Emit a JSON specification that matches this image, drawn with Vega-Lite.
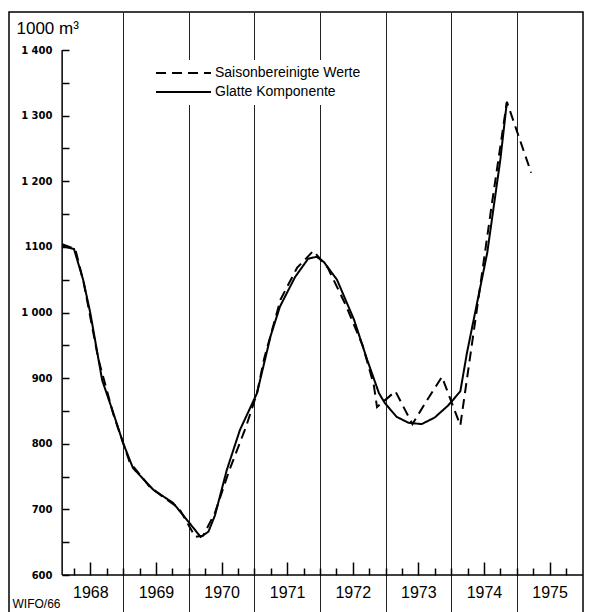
{
  "$schema": "https://vega.github.io/schema/vega-lite/v6.json",
  "width": 574,
  "height": 606,
  "autosize": "none",
  "padding": {"left": 9, "top": 12, "right": 18, "bottom": 0},
  "background": "white",
  "config": {
    "view": {"stroke": "black", "strokeWidth": 1.5},
    "font": "Liberation Sans"
  },
  "encoding": {
    "x": {
      "field": "x",
      "type": "quantitative",
      "scale": {"domain": [1967.26, 1976.01], "nice": false, "zero": false},
      "axis": {
        "orient": "bottom",
        "offset": -43,
        "domain": false,
        "values": [1968.25, 1968.5, 1968.75, 1969, 1969.25, 1969.5, 1969.75, 1970, 1970.25, 1970.5, 1970.75, 1971, 1971.25, 1971.5, 1971.75, 1972, 1972.25, 1972.5, 1972.75, 1973, 1973.25, 1973.5, 1973.75, 1974, 1974.25, 1974.5, 1974.75, 1975, 1975.25, 1975.5, 1975.75],
        "grid": true,
        "gridColor": "#222222",
        "gridWidth": 1,
        "gridOpacity": {"condition": {"test": "datum.value % 1 == 0", "value": 1}, "value": 0},
        "tickColor": "black",
        "tickWidth": 1.5,
        "tickSize": {"condition": {"test": "datum.value % 1 == 0.5", "value": -13}, "value": -7},
        "labelExpr": "datum.value % 1 == 0.5 ? format(floor(datum.value), 'd') : ''",
        "labelFont": "Liberation Sans",
        "labelFontSize": 16,
        "labelColor": "black",
        "labelBaseline": "top",
        "labelPadding": 22,
        "labelFlush": false,
        "labelOverlap": false,
        "title": "WIFO/66",
        "titleFont": "Liberation Sans",
        "titleFontSize": 12,
        "titleFontWeight": "normal",
        "titleColor": "black",
        "titleAlign": "left",
        "titleBaseline": "middle",
        "titleX": 3,
        "titleY": 28
      }
    },
    "y": {
      "field": "y",
      "type": "quantitative",
      "scale": {"domain": [534.5, 1458], "nice": false, "zero": false},
      "axis": {
        "orient": "left",
        "offset": -53,
        "domain": false,
        "grid": false,
        "values": [600, 650, 700, 750, 800, 850, 900, 950, 1000, 1050, 1100, 1150, 1200, 1250, 1300, 1350, 1400],
        "tickColor": "black",
        "tickWidth": 1.5,
        "tickSize": -7,
        "labelExpr": "datum.value == 1400 ? '1 400' : datum.value == 1300 ? '1 300' : datum.value == 1200 ? '1 200' : datum.value == 1000 ? '1 000' : datum.value % 100 == 0 ? format(datum.value, 'd') : ''",
        "labelFont": "DejaVu Sans",
        "labelFontWeight": "bold",
        "labelFontSize": 10,
        "labelColor": "black",
        "labelAlign": "right",
        "labelBaseline": "middle",
        "labelPadding": 17,
        "labelOverlap": false,
        "labelFlush": false,
        "title": "1000 m³",
        "titleFont": "Liberation Sans",
        "titleFontSize": 17,
        "titleFontWeight": "normal",
        "titleColor": "black",
        "titleAngle": 0,
        "titleAlign": "left",
        "titleBaseline": "alphabetic",
        "titleX": -46,
        "titleY": 21
      }
    }
  },
  "layer": [
    {
      "data": {"values": [{"x": 1968.07, "x2": 1976.01, "y": 600}]},
      "mark": {"type": "rule", "color": "black", "strokeWidth": 1.5},
      "encoding": {"x2": {"field": "x2"}}
    },
    {
      "data": {"values": [{"x": 1968.07, "y": 600, "y2": 1400}]},
      "mark": {"type": "rule", "color": "black", "strokeWidth": 1.5},
      "encoding": {"y2": {"field": "y2"}}
    },
    {
      "data": {
        "values": [
          {"series": "Saisonbereinigte Werte", "x": 1968.07, "y": 1104},
          {"series": "Saisonbereinigte Werte", "x": 1968.27, "y": 1097},
          {"series": "Saisonbereinigte Werte", "x": 1968.40, "y": 1045},
          {"series": "Saisonbereinigte Werte", "x": 1968.62, "y": 930},
          {"series": "Saisonbereinigte Werte", "x": 1968.85, "y": 845},
          {"series": "Saisonbereinigte Werte", "x": 1969.10, "y": 772},
          {"series": "Saisonbereinigte Werte", "x": 1969.20, "y": 760},
          {"series": "Saisonbereinigte Werte", "x": 1969.40, "y": 735},
          {"series": "Saisonbereinigte Werte", "x": 1969.62, "y": 718},
          {"series": "Saisonbereinigte Werte", "x": 1969.85, "y": 702},
          {"series": "Saisonbereinigte Werte", "x": 1970.10, "y": 658},
          {"series": "Saisonbereinigte Werte", "x": 1970.22, "y": 660},
          {"series": "Saisonbereinigte Werte", "x": 1970.40, "y": 695},
          {"series": "Saisonbereinigte Werte", "x": 1970.62, "y": 760},
          {"series": "Saisonbereinigte Werte", "x": 1970.87, "y": 825},
          {"series": "Saisonbereinigte Werte", "x": 1971.04, "y": 877},
          {"series": "Saisonbereinigte Werte", "x": 1971.15, "y": 930},
          {"series": "Saisonbereinigte Werte", "x": 1971.40, "y": 1020},
          {"series": "Saisonbereinigte Werte", "x": 1971.65, "y": 1068},
          {"series": "Saisonbereinigte Werte", "x": 1971.90, "y": 1094},
          {"series": "Saisonbereinigte Werte", "x": 1972.12, "y": 1068},
          {"series": "Saisonbereinigte Werte", "x": 1972.40, "y": 1010},
          {"series": "Saisonbereinigte Werte", "x": 1972.65, "y": 950},
          {"series": "Saisonbereinigte Werte", "x": 1972.82, "y": 890},
          {"series": "Saisonbereinigte Werte", "x": 1972.87, "y": 856},
          {"series": "Saisonbereinigte Werte", "x": 1973.15, "y": 880},
          {"series": "Saisonbereinigte Werte", "x": 1973.41, "y": 830},
          {"series": "Saisonbereinigte Werte", "x": 1973.63, "y": 866},
          {"series": "Saisonbereinigte Werte", "x": 1973.86, "y": 902},
          {"series": "Saisonbereinigte Werte", "x": 1974.14, "y": 828},
          {"series": "Saisonbereinigte Werte", "x": 1974.40, "y": 1010},
          {"series": "Saisonbereinigte Werte", "x": 1974.62, "y": 1165},
          {"series": "Saisonbereinigte Werte", "x": 1974.85, "y": 1321},
          {"series": "Saisonbereinigte Werte", "x": 1975.22, "y": 1213},
          {"series": "Glatte Komponente", "x": 1968.07, "y": 1101},
          {"series": "Glatte Komponente", "x": 1968.25, "y": 1097},
          {"series": "Glatte Komponente", "x": 1968.39, "y": 1050},
          {"series": "Glatte Komponente", "x": 1968.50, "y": 999},
          {"series": "Glatte Komponente", "x": 1968.68, "y": 897},
          {"series": "Glatte Komponente", "x": 1968.85, "y": 847},
          {"series": "Glatte Komponente", "x": 1969.00, "y": 801},
          {"series": "Glatte Komponente", "x": 1969.15, "y": 763},
          {"series": "Glatte Komponente", "x": 1969.46, "y": 730},
          {"series": "Glatte Komponente", "x": 1969.76, "y": 710},
          {"series": "Glatte Komponente", "x": 1970.07, "y": 672},
          {"series": "Glatte Komponente", "x": 1970.18, "y": 658},
          {"series": "Glatte Komponente", "x": 1970.30, "y": 666},
          {"series": "Glatte Komponente", "x": 1970.40, "y": 691},
          {"series": "Glatte Komponente", "x": 1970.58, "y": 760},
          {"series": "Glatte Komponente", "x": 1970.78, "y": 821},
          {"series": "Glatte Komponente", "x": 1971.04, "y": 877},
          {"series": "Glatte Komponente", "x": 1971.25, "y": 965},
          {"series": "Glatte Komponente", "x": 1971.39, "y": 1009},
          {"series": "Glatte Komponente", "x": 1971.62, "y": 1054},
          {"series": "Glatte Komponente", "x": 1971.82, "y": 1082},
          {"series": "Glatte Komponente", "x": 1971.95, "y": 1085},
          {"series": "Glatte Komponente", "x": 1972.06, "y": 1077},
          {"series": "Glatte Komponente", "x": 1972.26, "y": 1050},
          {"series": "Glatte Komponente", "x": 1972.52, "y": 989},
          {"series": "Glatte Komponente", "x": 1972.72, "y": 928},
          {"series": "Glatte Komponente", "x": 1972.90, "y": 877},
          {"series": "Glatte Komponente", "x": 1972.99, "y": 862},
          {"series": "Glatte Komponente", "x": 1973.17, "y": 841},
          {"series": "Glatte Komponente", "x": 1973.35, "y": 832},
          {"series": "Glatte Komponente", "x": 1973.55, "y": 830},
          {"series": "Glatte Komponente", "x": 1973.75, "y": 840},
          {"series": "Glatte Komponente", "x": 1973.95, "y": 858},
          {"series": "Glatte Komponente", "x": 1974.03, "y": 867},
          {"series": "Glatte Komponente", "x": 1974.14, "y": 880},
          {"series": "Glatte Komponente", "x": 1974.24, "y": 938},
          {"series": "Glatte Komponente", "x": 1974.55, "y": 1091},
          {"series": "Glatte Komponente", "x": 1974.75, "y": 1233},
          {"series": "Glatte Komponente", "x": 1974.85, "y": 1321}
        ]
      },
      "mark": {"type": "line", "color": "black", "strokeWidth": 2},
      "encoding": {
        "strokeDash": {
          "field": "series",
          "type": "nominal",
          "scale": {"domain": ["Saisonbereinigte Werte", "Glatte Komponente"], "range": [[10, 6], [1, 0]]},
          "legend": {
            "title": null,
            "orient": "none",
            "legendX": 141,
            "legendY": 48,
            "fillColor": "white",
            "padding": 5,
            "symbolType": "stroke",
            "symbolSize": 3025,
            "symbolStrokeWidth": 2,
            "symbolStrokeColor": "black",
            "labelFont": "Liberation Sans",
            "labelFontSize": 14,
            "labelColor": "black",
            "labelOffset": 3,
            "rowPadding": 3,
            "clipHeight": 16
          }
        }
      }
    }
  ]
}
